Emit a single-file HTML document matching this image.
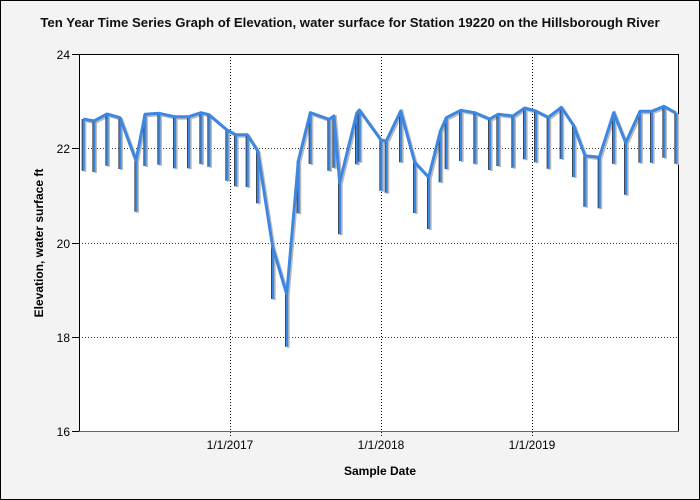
<!DOCTYPE html>
<html><head><meta charset="utf-8"><style>
body{margin:0;background:#f3f3f3;}
svg{display:block;font-family:"Liberation Sans",Arial,sans-serif;}
</style></head><body>
<svg width="700" height="500" viewBox="0 0 700 500">
<rect x="0.5" y="0.5" width="699" height="499" fill="#f3f3f3" stroke="#000"/>
<text x="350" y="27" text-anchor="middle" font-size="13.2" font-weight="bold" fill="#111">Ten Year Time Series Graph of Elevation, water surface for Station 19220 on the Hillsborough River</text>
<rect x="79" y="54" width="600" height="377" fill="#fff"/>
<g stroke="#333" stroke-width="1" stroke-dasharray="1,2">
<line x1="79" y1="148.5" x2="679" y2="148.5"/>
<line x1="79" y1="243.5" x2="679" y2="243.5"/>
<line x1="79" y1="337.5" x2="679" y2="337.5"/>
</g>
<g stroke="#000" stroke-width="1" stroke-dasharray="1,2">
<line x1="230.5" y1="54" x2="230.5" y2="436"/>
<line x1="381.5" y1="54" x2="381.5" y2="436"/>
<line x1="532.5" y1="54" x2="532.5" y2="436"/>
</g>
<line x1="79" y1="54.5" x2="679" y2="54.5" stroke="#000"/>
<line x1="79.5" y1="54" x2="79.5" y2="431" stroke="#000"/>
<line x1="678.5" y1="54" x2="678.5" y2="431" stroke="#000"/>
<line x1="79" y1="431.5" x2="679" y2="431.5" stroke="#666"/>
<g stroke="#000"><line x1="72" y1="54.5" x2="79" y2="54.5"/><line x1="72" y1="148.5" x2="79" y2="148.5"/><line x1="72" y1="243.5" x2="79" y2="243.5"/><line x1="72" y1="337.5" x2="79" y2="337.5"/><line x1="72" y1="431.5" x2="79" y2="431.5"/></g>
<g font-size="12" fill="#000" text-anchor="end">
<text x="70" y="59">24</text><text x="70" y="153">22</text><text x="70" y="248">20</text><text x="70" y="342">18</text><text x="70" y="436">16</text>
</g>
<g font-size="12" fill="#000" text-anchor="middle">
<text x="230" y="449">1/1/2017</text><text x="381" y="449">1/1/2018</text><text x="532" y="449">1/1/2019</text>
</g>
<text x="380" y="475" text-anchor="middle" font-size="12" font-weight="bold">Sample Date</text>
<text transform="translate(43,243) rotate(-90)" text-anchor="middle" font-size="12" font-weight="bold">Elevation, water surface ft</text>
<g id="s">
<path id="d" d="M83.3,119V170.7M94,121V172M107,114V165.7M120,117.7V169M136,160.7V211.7M145,114.3V166M159,113.3V164.7M174.7,116.7V168.3M188.7,116.7V168.3M201,112.7V164M209,114.7V166.7M227,130V180.7M235.7,134.7V186.3M247.3,134.7V187M257.7,151V203.3M272.7,247.3V299M286.7,294.3V346.7M298.3,161V213.3M310.3,112.7V164M329,119.3V170.7M334,116V167.7M339.7,182.7V234.3M356.7,113.3V164.3M359.3,110V161.7M381,140V190.7M386.3,141V192.7M400.7,111V162.3M414.7,162.3V213M428.7,177.3V229M440.3,131.3V182.3M446.3,117.7V169M460.7,110.3V161M475,112.7V163.7M489.7,119V170M498,114.3V166M513,116V167.7M524.7,108V159.3M535.7,111V162.3M548.3,117.3V168.7M561.3,107.3V159M573.7,125.7V177M585,155.7V206.7M599.3,157.3V208.3M613.7,112.7V163.7M625.7,142.7V194.7M640,111.3V162.7M651.7,111.3V162.7M664,106.3V157.7M676,113V163.7"/>
</g>
<path d="M83.3,119L94,121L107,114L120,117.7L136,160.7L145,114.3L159,113.3L174.7,116.7L188.7,116.7L201,112.7L209,114.7L227,130L235.7,134.7L247.3,134.7L257.7,151L272.7,247.3L286.7,294.3L298.3,161L310.3,112.7L329,119.3L334,116L339.7,182.7L356.7,113.3L359.3,110L381,140L386.3,141L400.7,111L414.7,162.3L428.7,177.3L440.3,131.3L446.3,117.7L460.7,110.3L475,112.7L489.7,119L498,114.3L513,116L524.7,108L535.7,111L548.3,117.3L561.3,107.3L573.7,125.7L585,155.7L599.3,157.3L613.7,112.7L625.7,142.7L640,111.3L651.7,111.3L664,106.3L676,113" fill="none" stroke="#bbb" stroke-width="3" transform="translate(1.5,1.5)"/>
<use href="#d" stroke="#bbb" stroke-width="3" transform="translate(1.5,1)"/>
<use href="#d" stroke="#3d87e0" stroke-width="3"/>
<use href="#d" stroke="#333" stroke-width="0.8" transform="translate(-1.2,0)"/>
<path d="M83.3,119L94,121L107,114L120,117.7L136,160.7L145,114.3L159,113.3L174.7,116.7L188.7,116.7L201,112.7L209,114.7L227,130L235.7,134.7L247.3,134.7L257.7,151L272.7,247.3L286.7,294.3L298.3,161L310.3,112.7L329,119.3L334,116L339.7,182.7L356.7,113.3L359.3,110L381,140L386.3,141L400.7,111L414.7,162.3L428.7,177.3L440.3,131.3L446.3,117.7L460.7,110.3L475,112.7L489.7,119L498,114.3L513,116L524.7,108L535.7,111L548.3,117.3L561.3,107.3L573.7,125.7L585,155.7L599.3,157.3L613.7,112.7L625.7,142.7L640,111.3L651.7,111.3L664,106.3L676,113" fill="none" stroke="#3d87e0" stroke-width="3" stroke-linejoin="round"/>
</svg>
</body></html>
